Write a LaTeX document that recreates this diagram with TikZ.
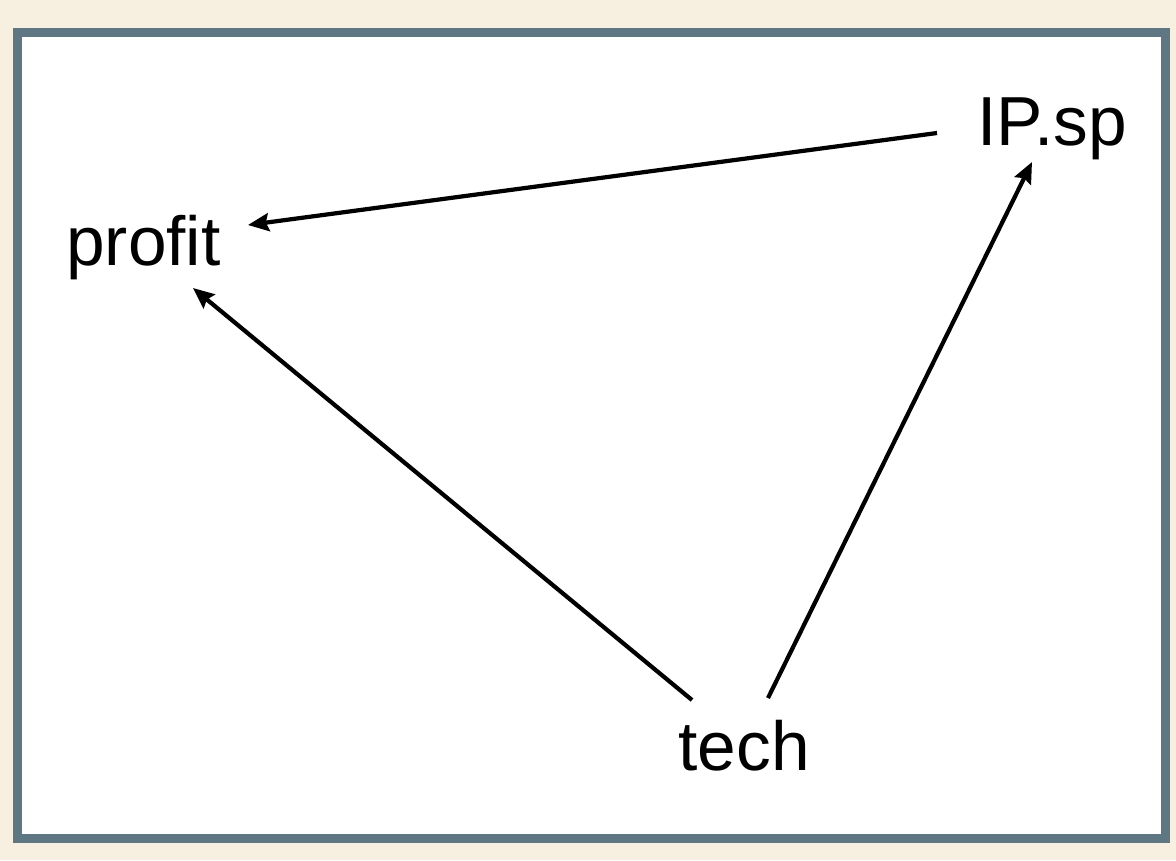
\documentclass[tikz,border=0pt]{standalone}
\usepackage{fontspec}
\setmainfont{Liberation Sans}
\usetikzlibrary{arrows.meta}

\definecolor{paper}{HTML}{F7F0E0}
\definecolor{frame}{HTML}{5F7782}

\tikzset{
    word/.style={anchor=base, inner sep=0pt, font=\fontsize{39.5}{46}\selectfont},
    link/.style={line width=2.4pt, -{Stealth[length=0.42cm, width=0.36cm, inset=0.06cm]}}
}

\begin{document}
\begin{tikzpicture}[x=0.02cm, y=-0.02cm]
            %\draw[lightgray] (0, 0) grid (1176, 860);
            \fill[paper] (0, 0) rectangle (1176, 860);
            \useasboundingbox (0, 0) rectangle (1176, 860);
            \draw[frame, line width=0.18cm, fill=white] (17.5, 32.5) rectangle (1165, 838.5);
            
            \node[word] (profit) at (143.5, 265) {profit};
            \node[word] (ipsp) at (1052, 145) {IP.sp};
            \node[word] (tech) at (744, 770) {tech};
            
            \draw[link] ([xshift=-2.3cm, yshift=0.24cm]ipsp.base) -- ([xshift=2.09cm, yshift=0.8cm]profit.base);
            \draw[link] ([xshift=-1.04cm, yshift=1.4cm]tech.base) -- ([xshift=0.99cm, yshift=-0.46cm]profit.base);
            \draw[link] ([xshift=0.48cm, yshift=1.44cm]tech.base) -- ([xshift=-0.4cm, yshift=-0.34cm]ipsp.base);
        \end{tikzpicture}
\end{document}
